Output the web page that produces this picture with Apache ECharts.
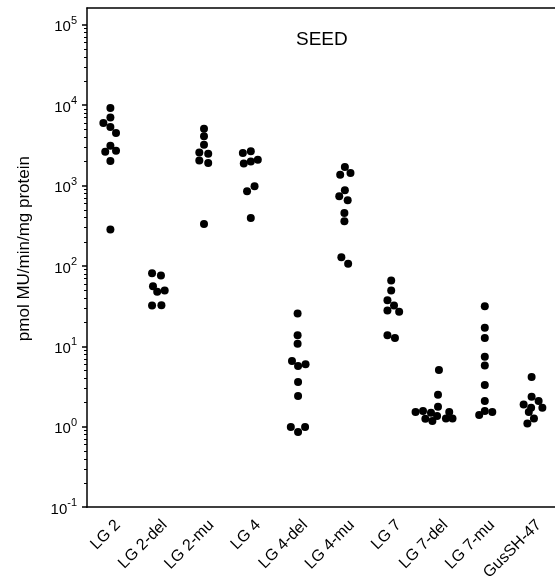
<!DOCTYPE html>
<html><head><meta charset="utf-8">
<script src="https://cdn.jsdelivr.net/npm/echarts@6/dist/echarts.min.js"></script>
<style>html,body{margin:0;padding:0;background:#fff}#c{width:555px;height:585px}</style>
</head><body><div id="c"></div>
<script>
// Categories (x axis)
const categories = ['LG 2','LG 2-del','LG 2-mu','LG 4','LG 4-del','LG 4-mu','LG 7','LG 7-del','LG 7-mu','GusSH-47'];
const lg2Values     = [9230, 7050, 6010, 5360, 4520, 3140, 2640, 2720, 2030, 284];
const lg2Jitter     = [0, 0, -0.15, 0, 0.12, 0, -0.11, 0.12, 0, 0];
const lg2delValues  = [81.5, 76.2, 56.1, 47.8, 49.6, 32.3, 32.6];
const lg2delJitter  = [-0.11, 0.08, -0.09, 0, 0.16, -0.11, 0.09];
const lg2muValues   = [5110, 4100, 3230, 2590, 2500, 2050, 1910, 334];
const lg2muJitter   = [0, 0, 0, -0.1, 0.09, -0.1, 0.09, 0];
const lg4Values     = [2550, 2670, 1880, 2000, 2100, 850, 980, 397];
const lg4Jitter     = [-0.17, 0, -0.15, 0, 0.15, -0.08, 0.08, 0];
const lg4delValues  = [25.7, 13.8, 10.8, 6.57, 5.69, 5.98, 3.6, 2.41, 0.995, 0.861, 0.995];
const lg4delJitter  = [0, 0, 0, -0.12, 0.01, 0.17, 0.01, 0.01, -0.145, 0.01, 0.16];
const lg4muValues   = [1710, 1370, 1440, 875, 736, 657, 458, 360, 129, 107];
const lg4muJitter   = [0.01, -0.09, 0.13, 0.01, -0.11, 0.07, 0, 0, -0.065, 0.08];
const lg7Values     = [66.1, 49.6, 37.6, 32.3, 28.0, 27.0, 13.8, 12.7];
const lg7Jitter     = [0, 0, -0.08, 0.06, -0.08, 0.17, -0.08, 0.08];
const lg7delValues  = [5.08, 2.51, 1.78, 1.53, 1.57, 1.5, 1.53, 1.26, 1.18, 1.36, 1.27, 1.27];
const lg7delJitter  = [0.02, 0, 0, -0.48, -0.32, -0.15, 0.24, -0.27, -0.12, -0.02, 0.17, 0.31];
const lg7muValues   = [31.7, 17.1, 12.7, 7.45, 5.81, 3.31, 2.09, 1.4, 1.57, 1.53];
const lg7muJitter   = [0, 0, 0, 0, 0, 0, 0, -0.12, 0, 0.16];
const gusValues     = [4.16, 2.37, 1.9, 2.09, 1.73, 1.73, 1.53, 1.27, 1.1];
const gusJitter     = [0, 0, -0.17, 0.15, -0.01, 0.23, -0.06, 0.05, -0.09];
// Axis tick labels (powers of ten) and minor tick multipliers
const majorTicks = [0.1, 1, 10, 100, 1000, 10000, 100000];
const minorMultipliers = [2, 3, 4, 5, 6, 7, 8, 9];
const yMin = 0.1, yMax = 162000;

const groups = [
  [lg2Values, lg2Jitter], [lg2delValues, lg2delJitter], [lg2muValues, lg2muJitter],
  [lg4Values, lg4Jitter], [lg4delValues, lg4delJitter], [lg4muValues, lg4muJitter],
  [lg7Values, lg7Jitter], [lg7delValues, lg7delJitter], [lg7muValues, lg7muJitter],
  [gusValues, gusJitter]
];
const points = [];
groups.forEach(([vals, jit], i) => vals.forEach((v, k) => points.push([i + jit[k], v])));

const minorTicks = [];
majorTicks.forEach(m => minorMultipliers.forEach(f => { const v = m * f; if (v <= yMax) minorTicks.push(v); }));

const font = 'Liberation Sans, Arial, Helvetica, sans-serif';
const chart = echarts.init(document.getElementById('c'), null, {renderer: 'canvas'});
chart.setOption({
  animation: false,
  backgroundColor: '#fff',
  title: {
    text: 'SEED', left: 291, top: 25,
    textStyle: {fontFamily: font, fontSize: 19, fontWeight: 'normal', color: '#000'}
  },
  grid: {left: 87, right: -5, top: 8, bottom: 77, containLabel: false},
  xAxis: [
    {
      type: 'category', data: categories, position: 'bottom', boundaryGap: true,
      axisLine: {onZero: false, lineStyle: {color: '#000', width: 1.5}},
      axisTick: {alignWithLabel: true, length: 5, lineStyle: {color: '#000', width: 1.5}},
      axisLabel: {rotate: 45, margin: 8, fontFamily: font, fontSize: 16, color: '#000', interval: 0,
                  verticalAlign: 'top', lineHeight: 21},
      splitLine: {show: false}
    },
    {
      type: 'value', position: 'top', min: -0.5, max: 9.5,
      axisLine: {show: true, onZero: false, lineStyle: {color: '#000', width: 1.5}},
      axisTick: {show: false}, axisLabel: {show: false}, splitLine: {show: false}
    }
  ],
  yAxis: [
    {
      type: 'log', min: yMin, max: yMax, logBase: 10,
      name: 'pmol MU/min/mg protein', nameLocation: 'middle', nameGap: 54,
      nameTextStyle: {fontFamily: font, fontSize: 17, color: '#000', padding: [0, 0, 0, 18]},
      axisLine: {show: true, onZero: false, lineStyle: {color: '#000', width: 1.5}},
      axisTick: {show: true, length: 5, customValues: majorTicks, lineStyle: {color: '#000', width: 1.5}},
      axisLabel: {
        customValues: majorTicks, margin: 10, fontFamily: font, color: '#000',
        formatter: v => '{b|10}{s|' + Math.round(Math.log10(v)) + '}',
        rich: {
          b: {fontFamily: font, fontSize: 15, color: '#000', padding: [5, 0, 0, 0]},
          s: {fontFamily: font, fontSize: 11, color: '#000', padding: [0, 0, 8, 0]}
        }
      },
      splitLine: {show: false}
    },
    {
      type: 'log', min: yMin, max: yMax, logBase: 10, position: 'left',
      axisLine: {show: false, onZero: false},
      axisTick: {show: true, length: 3, customValues: minorTicks, lineStyle: {color: '#000', width: 1}},
      axisLabel: {show: false}, splitLine: {show: false}
    }
  ],
  series: [{
    type: 'scatter', xAxisIndex: 1, yAxisIndex: 0, data: points,
    symbol: 'circle', symbolSize: 8, itemStyle: {color: '#000', opacity: 1}
  }]
});
</script></body></html>
